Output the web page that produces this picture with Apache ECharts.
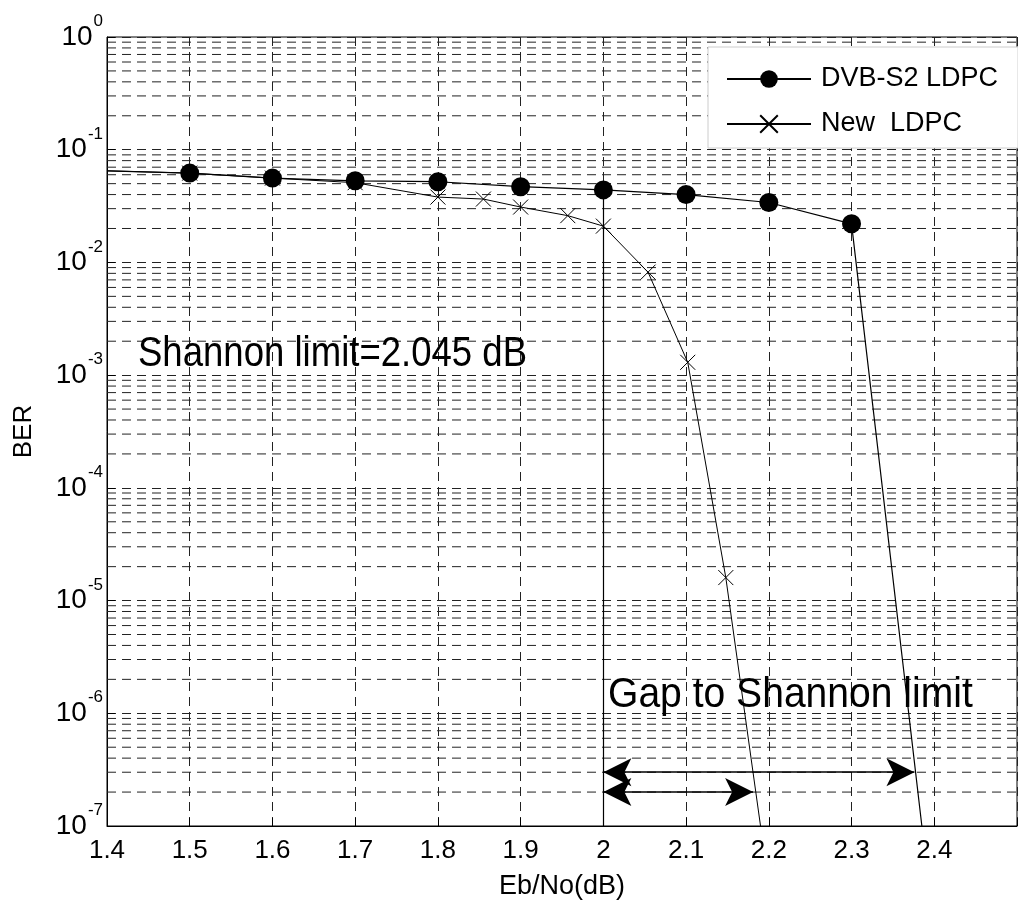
<!DOCTYPE html>
<html>
<head>
<meta charset="utf-8">
<title>BER</title>
<script src="https://cdn.jsdelivr.net/npm/echarts@6/dist/echarts.min.js"></script>
<style>
html, body { margin: 0; padding: 0; background: #fff; }
#chart { width: 1018px; height: 907px; }
</style>
</head>
<body>
<div id="chart"></div>
<script>
// DVB-S2 LDPC curve
var dvbX = [1.4, 1.5, 1.6, 1.7, 1.8, 1.9, 2.0, 2.1, 2.2, 2.3, 2.385];
var dvbBer = [0.065, 0.062, 0.056, 0.053, 0.052, 0.047, 0.044, 0.040, 0.034, 0.022, 1e-7];
// New LDPC curve
var newX = [1.4, 1.5, 1.6, 1.7, 1.8, 1.855, 1.9, 1.957, 2.0, 2.054, 2.102, 2.148, 2.19];
var newBer = [0.065, 0.062, 0.056, 0.051, 0.038, 0.0365, 0.031, 0.026, 0.021, 0.0082, 0.0013, 1.6e-5, 1e-7];
// gap arrows (start x, end x, BER level)
var gapFrom = [2.0, 2.0];
var gapTo = [2.376, 2.181];
var gapBer = [3e-7, 2e-7];
// Shannon limit marker line
var shannonX = 2.0;
var shannonTop = 0.044;
// axis ranges
var xMin = 1.4, xMax = 2.5;
var yMin = 1e-7, yMax = 1;

var font = '"Liberation Sans", Arial, sans-serif';

function toData(xs, ys) {
    var out = [];
    for (var i = 0; i < xs.length; i++) {
        var item = { value: [xs[i], ys[i]] };
        if (i === 0 || i === xs.length - 1) item.symbol = 'none';
        out.push(item);
    }
    return out;
}

// minor log grid lines 2..9 x 10^n, as broken line segments
var minorGrid = [];
for (var n = -7; n < 0; n++) {
    for (var k = 2; k <= 9; k++) {
        var v = k * Math.pow(10, n);
        minorGrid.push([xMin, v], [xMax, v], [xMax, '-']);
    }
}

var arrowLines = [];
for (var i = 0; i < gapFrom.length; i++) {
    arrowLines.push([{ coord: [gapFrom[i], gapBer[i]] }, { coord: [gapTo[i], gapBer[i]] }]);
}

var dash = [9, 6];
var gridColor = '#222';

var chart = echarts.init(document.getElementById('chart'));
chart.setOption({
    animation: false,
    backgroundColor: '#fff',
    grid: {
        left: 107, right: 1, top: 37, bottom: 81,
        containLabel: false, outerBoundsMode: 'none',
        show: true, borderColor: '#000', borderWidth: 1
    },
    legend: {
        orient: 'vertical',
        left: 708, top: 47,
        padding: [17, 20, 9, 18],
        itemWidth: 84, itemHeight: 22, itemGap: 15,
        backgroundColor: '#fff',
        borderColor: '#ccc', borderWidth: 1,
        textStyle: { fontFamily: font, fontSize: 27, color: '#000', lineHeight: 30, padding: [0, 0, 0, 5] },
        data: ['DVB-S2 LDPC', 'New  LDPC']
    },
    xAxis: {
        type: 'value',
        min: xMin, max: xMax, interval: 0.1,
        name: 'Eb/No(dB)', nameLocation: 'middle', nameGap: 47,
        nameTextStyle: { fontFamily: font, fontSize: 27, color: '#000' },
        axisLine: { lineStyle: { color: '#000' } },
        axisTick: { inside: true, length: 8, lineStyle: { color: '#000' } },
        axisLabel: {
            fontFamily: font, fontSize: 26, color: '#000', margin: 12,
            formatter: function (v) { return v > 2.45 ? '' : String(Math.round(v * 10) / 10); }
        },
        splitLine: { show: true, lineStyle: { color: gridColor, type: dash, width: 1 } }
    },
    yAxis: {
        type: 'log', logBase: 10,
        min: yMin, max: yMax, interval: 1,
        name: 'BER', nameLocation: 'middle', nameGap: 70,
        nameTextStyle: { fontFamily: font, fontSize: 26, color: '#000' },
        axisLine: { lineStyle: { color: '#000' } },
        axisTick: { inside: true, length: 8, lineStyle: { color: '#000' } },
        axisLabel: {
            margin: 4,
            formatter: function (v) {
                return '{b|10}{s|' + Math.round(Math.log10(v)) + '}';
            },
            rich: {
                b: { fontFamily: font, fontSize: 28, color: '#000', lineHeight: 48, verticalAlign: 'middle' },
                s: { fontFamily: font, fontSize: 17, color: '#000', lineHeight: 17, verticalAlign: 'top', padding: [0, 0, 0, 1] }
            }
        },
        splitLine: { show: true, lineStyle: { color: gridColor, type: dash, width: 1 } }
    },
    series: [
        {
            name: 'minor-grid',
            type: 'line',
            data: minorGrid,
            silent: true,
            symbol: 'none',
            connectNulls: false,
            lineStyle: { color: gridColor, type: dash, width: 1 },
            emphasis: { disabled: true },
            z: 1
        },
        {
            name: 'DVB-S2 LDPC',
            type: 'line',
            data: toData(dvbX, dvbBer),
            symbol: 'circle',
            symbolSize: 19,
            itemStyle: { color: '#000' },
            lineStyle: { color: '#000', width: 1.2 },
            z: 5
        },
        {
            name: 'New  LDPC',
            type: 'line',
            data: toData(newX, newBer),
            symbol: 'path://M0,0L10,10M10,0L0,10',
            symbolSize: 15,
            itemStyle: { color: 'transparent', borderColor: '#000', borderWidth: 1 },
            lineStyle: { color: '#000', width: 1 },
            z: 4,
            markLine: {
                silent: true,
                label: { show: false },
                emphasis: { disabled: true },
                symbol: ['none', 'none'],
                lineStyle: { color: '#000', type: 'solid', width: 1.2 },
                data: [[{ coord: [shannonX, shannonTop] }, { coord: [shannonX, yMin] }]]
            }
        },
        {
            name: 'gap',
            type: 'line',
            data: [],
            silent: true,
            markLine: {
                silent: true,
                label: { show: false },
                emphasis: { disabled: true },
                symbol: ['arrow', 'arrow'],
                symbolSize: [21, 28],
                lineStyle: { color: '#000', type: 'solid', width: 1.5 },
                itemStyle: { color: '#000' },
                data: arrowLines
            }
        }
    ],
    graphic: [
        {
            type: 'text', left: 138, top: 333, scaleX: 0.87,
            style: { text: 'Shannon limit=2.045 dB', font: '42px ' + font, fill: '#000' },
            z: 10
        },
        {
            type: 'text', left: 608, top: 674, scaleX: 0.93,
            style: { text: 'Gap to Shannon limit', font: '42px ' + font, fill: '#000' },
            z: 10
        }
    ]
});
</script>
</body>
</html>
